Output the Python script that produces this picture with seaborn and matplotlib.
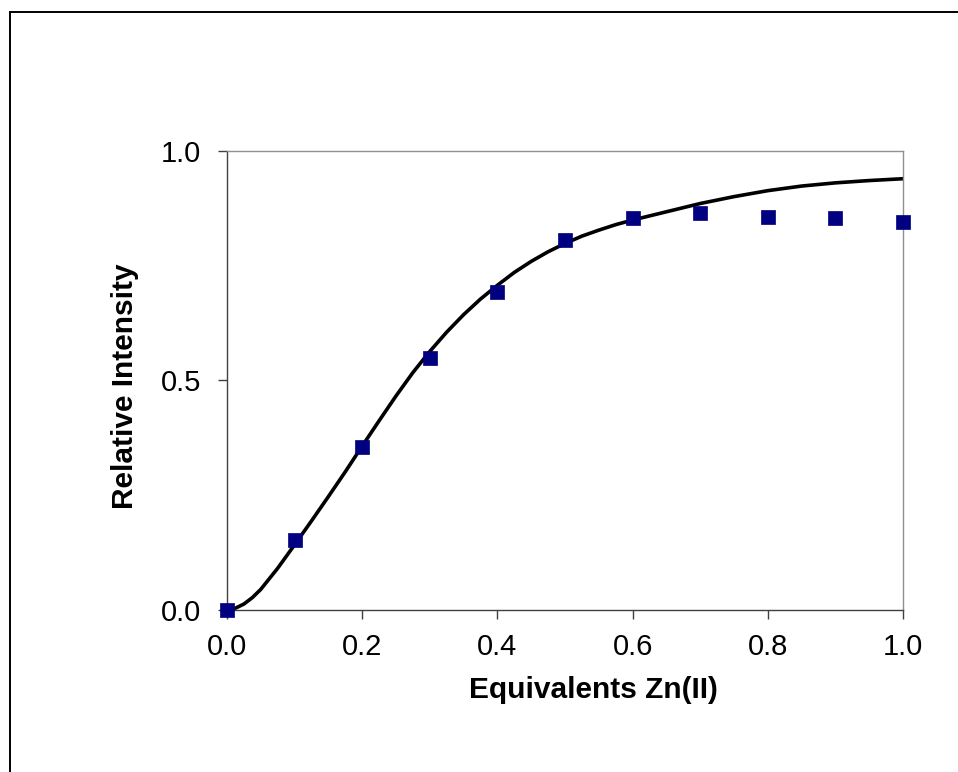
import matplotlib
matplotlib.use("Agg")
import matplotlib.pyplot as plt
from matplotlib.patches import Rectangle
import seaborn as sns
import pandas as pd

# measured data points
equiv = [0.0, 0.1, 0.2, 0.3, 0.4, 0.5, 0.6, 0.7, 0.8, 0.9, 1.0]
intensity = [0.000, 0.152, 0.355, 0.549, 0.693, 0.805, 0.853, 0.864, 0.855, 0.853, 0.844]

# fitted curve
fit_x = [0.0, 0.0125, 0.025, 0.0375, 0.05, 0.075, 0.10, 0.125, 0.15, 0.175, 0.20, 0.225, 0.25,
         0.275, 0.30, 0.325, 0.35, 0.375, 0.40, 0.425, 0.45, 0.475, 0.50, 0.525, 0.55,
         0.575, 0.60, 0.65, 0.70, 0.75, 0.80, 0.85, 0.90, 0.95, 1.00]
fit_y = [0.000, 0.004, 0.013, 0.027, 0.045, 0.091, 0.142, 0.194, 0.247, 0.301, 0.357, 0.412, 0.466,
         0.517, 0.563, 0.605, 0.643, 0.677, 0.707, 0.735, 0.759, 0.780, 0.798, 0.814, 0.827,
         0.839, 0.849, 0.867, 0.885, 0.900, 0.913, 0.923, 0.930, 0.935, 0.939]

x_ticks = [0.0, 0.2, 0.4, 0.6, 0.8, 1.0]
y_ticks = [0.0, 0.5, 1.0]

sns.set_theme(style="white")
plt.rcParams['font.family'] = ['Liberation Sans', 'DejaVu Sans']

W, H = 958, 772
fig = plt.figure(figsize=(W / 100, H / 100), dpi=100)
ax = fig.add_axes([227 / W, 1 - 610 / H, (903 - 227) / W, (610 - 150.7) / H])

pts = pd.DataFrame({"x": equiv, "y": intensity})
fit = pd.DataFrame({"x": fit_x, "y": fit_y})

sns.lineplot(data=fit, x="x", y="y", ax=ax, color="black", linewidth=2.6,
             sort=True, zorder=2)
sns.scatterplot(data=pts, x="x", y="y", ax=ax, marker="s", s=95, color="#000080",
                edgecolor="#000080", linewidth=0.5, zorder=3, clip_on=False)

ax.set_xlim(0, 1)
ax.set_ylim(0, 1)
ax.set_xticks(x_ticks)
ax.set_xticklabels([f"{v:.1f}" for v in x_ticks])
ax.set_yticks(y_ticks)
ax.set_yticklabels([f"{v:.1f}" for v in y_ticks])

ax.tick_params(axis="both", which="major", direction="out", length=6.5, width=1.0,
               color="#404040", labelsize=21, labelcolor="black",
               bottom=True, left=True, top=False, right=False)
ax.tick_params(axis="x", pad=10)
ax.tick_params(axis="y", pad=12)

for side in ["left", "bottom"]:
    ax.spines[side].set_color("#404040")
    ax.spines[side].set_linewidth(1.0)
for side in ["top", "right"]:
    ax.spines[side].set_color("#909090")
    ax.spines[side].set_linewidth(1.0)

ax.set_xlabel("Equivalents Zn(II)", fontsize=21.5, fontweight="bold", color="black")
ax.set_ylabel("Relative Intensity", fontsize=21.5, fontweight="bold", color="black")
ax.xaxis.set_label_coords((593 - 227) / (903 - 227), -(690 - 610) / (610 - 150.7))
ax.yaxis.set_label_coords(-(227 - 125) / (903 - 227), (610 - 386) / (610 - 150.7))
ax.xaxis.label.set_verticalalignment("center")
ax.yaxis.label.set_verticalalignment("center")

# outer frame
fig.patches.append(Rectangle((9.7 / W, -0.1), 2, 1.1 - 11.7 / H, transform=fig.transFigure,
                             fill=False, edgecolor="black", linewidth=1.4))

fig.savefig("out.png", dpi=100)
